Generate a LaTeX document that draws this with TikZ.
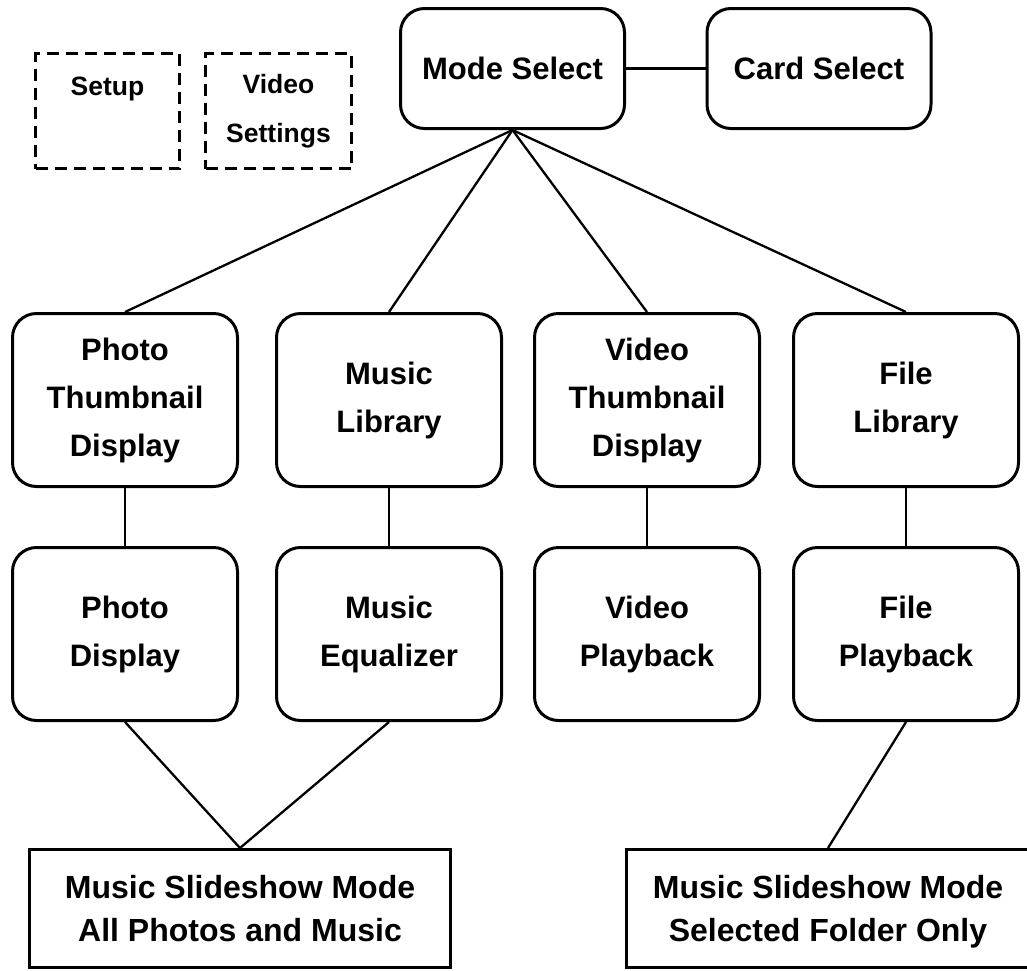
\documentclass[tikz,border=0pt]{standalone}
\usepackage{fontspec}
\setmainfont{Liberation Sans}
\begin{document}
\begin{tikzpicture}[x=1pt,y=-1pt,
  box/.style={draw,line width=3pt,rounded corners=24pt,minimum width=225pt,minimum height=173pt,inner sep=0pt,align=center,font=\bfseries\fontsize{31}{48}\selectfont},
  topbox/.style={box,minimum width=224pt,minimum height=120pt},
  dbox/.style={draw,line width=3pt,dash pattern=on 12pt off 7pt,minimum height=115pt,inner sep=0pt,align=center,font=\bfseries\fontsize{26.5}{49}\selectfont},
  mbox/.style={draw,line width=3pt,minimum height=118pt,inner sep=0pt,align=center,font=\bfseries\fontsize{32}{43}\selectfont},
  conn/.style={line width=2.3pt}]
\useasboundingbox (0,0) rectangle (1027,970);
\node[topbox] (mode) at (512.5,68.5) {Mode Select};
\node[topbox] (card) at (819,68.5) {Card Select};
\node[dbox,minimum width=144pt] (setup) at (107.5,111) {Setup\\\mbox{}};
\node[dbox,minimum width=146pt] (vset) at (278.5,111) {Video\\Settings};
\node[box] (pthumb) at (125,400) {Photo\\Thumbnail\\Display};
\node[box] (mlib) at (389,400) {Music\\Library};
\node[box] (vthumb) at (647,400) {Video\\Thumbnail\\Display};
\node[box] (flib) at (906,400) {File\\Library};
\node[box] (pdisp) at (125,634) {Photo\\Display};
\node[box] (meq) at (389,634) {Music\\Equalizer};
\node[box] (vplay) at (647,634) {Video\\Playback};
\node[box] (fplay) at (906,634) {File\\Playback};
\node[mbox,minimum width=421pt] (allm) at (240,908.5) {Music Slideshow Mode\\All Photos and Music};
\node[mbox,minimum width=403pt] (self) at (828,908.5) {Music Slideshow Mode\\\raisebox{0pt}[\height][0pt]{Selected Folder Only}};
\draw[conn] (mode.east) -- (card.west);
\foreach \n in {pthumb,mlib,vthumb,flib} \draw[conn] (mode.south) -- (\n.north);
\draw[conn] (pthumb) -- (pdisp);
\draw[conn] (mlib) -- (meq);
\draw[conn] (vthumb) -- (vplay);
\draw[conn] (flib) -- (fplay);
\draw[conn] (pdisp.south) -- (allm.north);
\draw[conn] (meq.south) -- (allm.north);
\draw[conn] (fplay.south) -- (self.north);
\end{tikzpicture}
\end{document}
